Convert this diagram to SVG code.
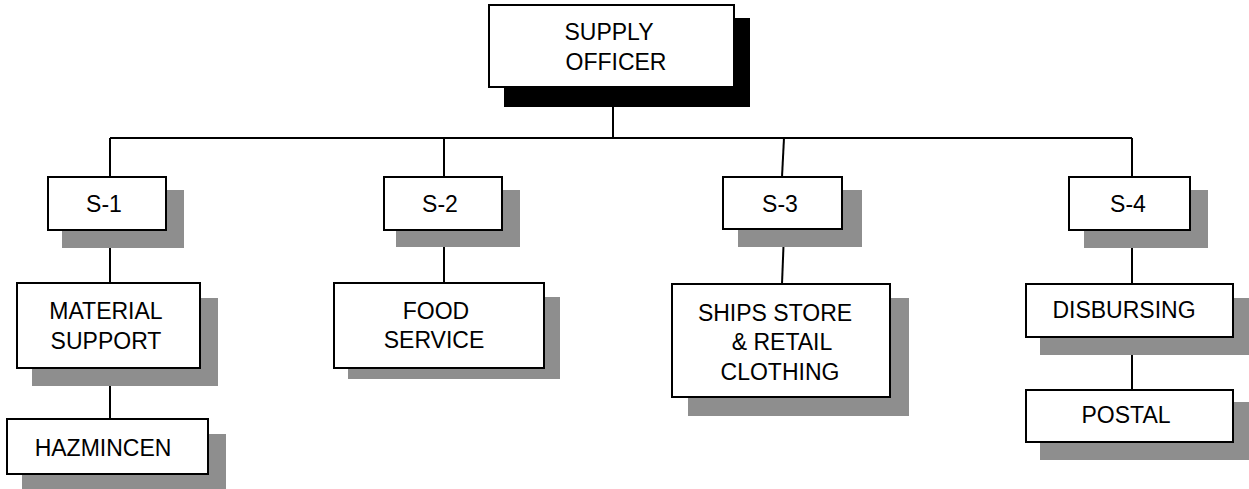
<svg xmlns="http://www.w3.org/2000/svg" width="1249" height="489" viewBox="0 0 1249 489">
<style>
.box{fill:#fff;stroke:#000;stroke-width:2}
.sh{fill:#8e8e8e;stroke:none}
.shk{fill:#000;stroke:none}
.t{font-family:"Liberation Sans",Arial,sans-serif;font-size:23px;fill:#000;text-anchor:middle}
.c{stroke:#000;stroke-width:2;fill:none}
</style>
<rect width="1249" height="489" fill="#fff"/>
<g id="connectors">
<line class="c" x1="613" y1="87" x2="613" y2="138"/>
<line class="c" x1="110" y1="138" x2="1132" y2="138"/>
<line class="c" x1="110" y1="138" x2="110" y2="177"/>
<line class="c" x1="444" y1="138" x2="444" y2="177"/>
<line class="c" x1="784" y1="138" x2="782" y2="177"/>
<line class="c" x1="1132" y1="138" x2="1132" y2="177"/>
<line class="c" x1="110" y1="230" x2="110" y2="283"/>
<line class="c" x1="110" y1="368" x2="110" y2="419"/>
<line class="c" x1="444" y1="230" x2="444" y2="283"/>
<line class="c" x1="784" y1="233" x2="782" y2="284"/>
<line class="c" x1="1132" y1="230" x2="1132" y2="284"/>
<line class="c" x1="1132" y1="337" x2="1132" y2="390"/>
</g>
<g id="supply-officer">
<rect class="shk" x="504" y="18" width="246" height="89"/>
<rect class="box" x="489" y="5" width="245" height="82"/>
<text class="t" x="609" y="40">SUPPLY</text>
<text class="t" x="616" y="70">OFFICER</text>
</g>
<g id="s1">
<rect class="sh" x="62" y="190" width="122" height="58"/>
<rect class="box" x="48" y="177" width="118" height="53"/>
<text class="t" x="104" y="212">S-1</text>
</g>
<g id="s2">
<rect class="sh" x="396" y="190" width="124" height="57"/>
<rect class="box" x="384" y="177" width="118" height="53"/>
<text class="t" x="440" y="212">S-2</text>
</g>
<g id="s3">
<rect class="sh" x="738" y="190" width="124" height="57"/>
<rect class="box" x="723" y="177" width="119" height="52"/>
<text class="t" x="780" y="212">S-3</text>
</g>
<g id="s4">
<rect class="sh" x="1084" y="190" width="124" height="58"/>
<rect class="box" x="1069" y="177" width="121" height="53"/>
<text class="t" x="1128" y="212">S-4</text>
</g>
<g id="material-support">
<rect class="sh" x="32" y="298" width="186" height="88"/>
<rect class="box" x="17" y="283" width="183" height="85"/>
<text class="t" x="106" y="319">MATERIAL</text>
<text class="t" x="106" y="349">SUPPORT</text>
</g>
<g id="hazmincen">
<rect class="sh" x="22" y="434" width="204" height="55"/>
<rect class="box" x="7" y="419" width="201" height="55"/>
<text class="t" x="103" y="456">HAZMINCEN</text>
</g>
<g id="food-service">
<rect class="sh" x="348" y="297" width="212" height="82"/>
<rect class="box" x="334" y="283" width="210" height="85"/>
<text class="t" x="436" y="319">FOOD</text>
<text class="t" x="434" y="348">SERVICE</text>
</g>
<g id="ships-store">
<rect class="sh" x="688" y="298" width="221" height="118"/>
<rect class="box" x="672" y="284" width="218" height="113"/>
<text class="t" x="775" y="321">SHIPS STORE</text>
<text class="t" x="782" y="350">&amp; RETAIL</text>
<text class="t" x="780" y="380">CLOTHING</text>
</g>
<g id="disbursing">
<rect class="sh" x="1040" y="298" width="209" height="57"/>
<rect class="box" x="1026" y="284" width="207" height="53"/>
<text class="t" x="1124" y="318">DISBURSING</text>
</g>
<g id="postal">
<rect class="sh" x="1040" y="402" width="209" height="58"/>
<rect class="box" x="1026" y="390" width="207" height="52"/>
<text class="t" x="1126" y="423">POSTAL</text>
</g>
</svg>
